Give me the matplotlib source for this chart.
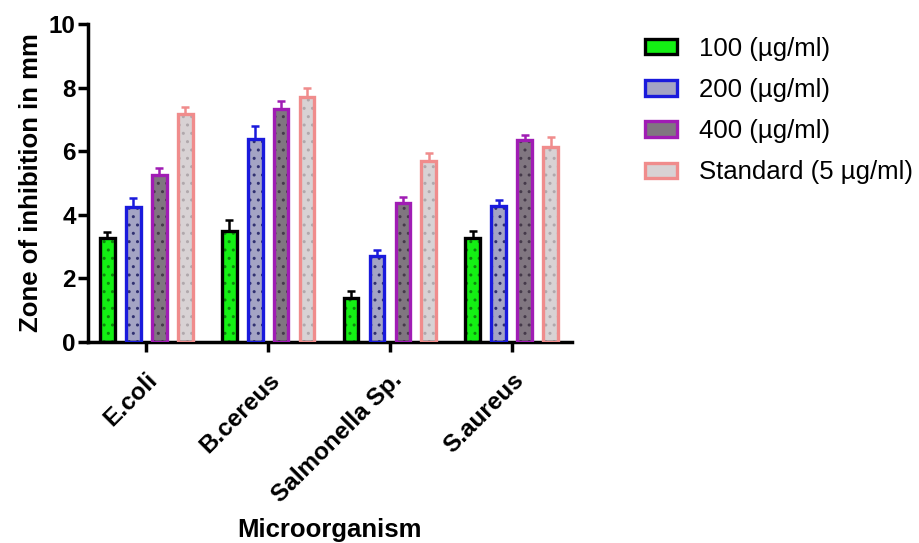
import numpy as np
import matplotlib.pyplot as plt
from matplotlib.patches import Patch

plt.rcParams['font.family'] = ['Liberation Sans', 'DejaVu Sans']
plt.rcParams['hatch.linewidth'] = 1.0

organisms = ["E.coli", "B.cereus", "Salmonella Sp.", "S.aureus"]
series = ["100 (µg/ml)", "200 (µg/ml)", "400 (µg/ml)", "Standard (5 µg/ml)"]

conc_100 = [3.28, 3.48, 1.40, 3.28]
conc_200 = [4.24, 6.38, 2.69, 4.27]
conc_400 = [5.24, 7.34, 4.36, 6.34]
standard = [7.17, 7.70, 5.68, 6.13]

err_100 = [0.18, 0.36, 0.22, 0.21]
err_200 = [0.28, 0.40, 0.19, 0.20]
err_400 = [0.24, 0.25, 0.21, 0.16]
err_std = [0.23, 0.28, 0.27, 0.31]

values = [conc_100, conc_200, conc_400, standard]
errors = [err_100, err_200, err_400, err_std]
edge_colors = ["#000000", "#1a1adc", "#a01cb4", "#f08c8c"]
fill_colors = ["#14f014", "#a4a4c4", "#807680", "#d8d2d4"]
dot_colors = ["#0a8a0a", "#303070", "#453a4a", "#b0a8ac"]

fig, ax = plt.subplots(figsize=(9.19, 5.43), dpi=100)
fig.subplots_adjust(left=0.096, right=0.622, bottom=0.37, top=0.956)

x = np.arange(len(organisms))
step = 0.213
width = 0.122

for i in range(4):
    pos = x + (i - 1.5) * step
    # fill with dotted hatch
    ax.bar(pos, values[i], width, color=fill_colors[i], edgecolor=dot_colors[i],
           hatch='..', linewidth=0, zorder=2)
    # outline
    ax.bar(pos, values[i], width, color='none', edgecolor=edge_colors[i],
           linewidth=2.4, zorder=3)
    ax.errorbar(pos, values[i], yerr=[np.zeros(4), errors[i]], fmt='none',
                ecolor=edge_colors[i], elinewidth=1.8, capsize=3.2, capthick=1.8,
                zorder=1)

ax.set_xlim(-0.475, 3.49)
ax.set_ylim(0, 10)
ax.set_yticks([0, 2, 4, 6, 8, 10])
ax.set_xticks(x)
ax.set_xticklabels(organisms, rotation=45, ha='right', rotation_mode='anchor',
                   fontsize=17.5, fontweight='bold')
for lab in ax.get_yticklabels():
    lab.set_fontsize(17.5)
    lab.set_fontweight('bold')

for s in ['top', 'right']:
    ax.spines[s].set_visible(False)
for s in ['left', 'bottom']:
    ax.spines[s].set_linewidth(2.5)
ax.tick_params(width=2.5, length=7, direction='out')
ax.tick_params(axis='x', pad=12)
ax.tick_params(axis='y', pad=2)

ax.set_ylabel("Zone of inhibition in mm", fontsize=18.5, fontweight='bold')
ax.set_xlabel("Microorganism", fontsize=18.5, fontweight='bold')
ax.xaxis.set_label_coords(0.5, -0.59)
ax.xaxis.label.set_va('center')

handles = [Patch(facecolor=fill_colors[i], edgecolor=edge_colors[i],
                 linewidth=2.4, label=series[i]) for i in range(4)]
fig.legend(handles=handles, loc='upper left', bbox_to_anchor=(0.677, 0.975),
           frameon=False, fontsize=18.5, handlelength=1.25, handleheight=0.55,
           labelspacing=0.67, handletextpad=0.85)

plt.savefig("out.png", dpi=100)
